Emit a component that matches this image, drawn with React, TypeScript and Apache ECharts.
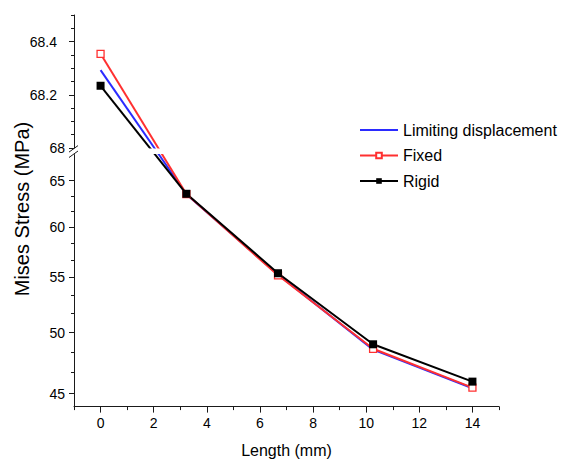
import React, { useEffect, useRef } from 'react';
import * as echarts from 'echarts';

// ---- data ----
const lengths = [0, 3.23, 6.68, 10.26, 14];
const limitingStress = [68.293, 63.5, 55.28, 48.55, 45.42];
const fixedStress = [68.354, 63.52, 55.2, 48.62, 45.47];
const rigidStress = [68.234, 63.55, 55.4, 49.0, 45.94];
const seriesNames = ['Limiting displacement', 'Fixed', 'Rigid'];

// ---- axis ticks ----
const xTickLabels = [0, 2, 4, 6, 8, 10, 12, 14];
const xMinorTicks = [-1, 1, 3, 5, 7, 9, 11, 13, 15];
const upperTickLabels = [68, 68.2, 68.4];
const upperMinorTicks = [68.05, 68.1, 68.15, 68.25, 68.3, 68.35, 68.45, 68.5];
const lowerTickLabels = [45, 50, 55, 60, 65];
const lowerMinorTicks = [46.667, 48.333, 51.667, 53.333, 56.667, 58.333, 61.667, 63.333];
const BREAK_VALUE = 68;

const FONT = "'Liberation Sans', Arial, sans-serif";
const AXIS_COLOR = '#1a1a1a';
const BLUE = '#2b2bff';
const RED = '#ff3030';
const BLACK = '#000000';

export default function App() {
  const ref = useRef<HTMLDivElement>(null);

  useEffect(() => {
    if (!ref.current) return;
    const chart = echarts.init(ref.current, null, { renderer: 'svg' });

    const defs = [
      { name: seriesNames[0], values: limitingStress, color: BLUE, symbol: 'none', size: 0, fill: BLUE },
      { name: seriesNames[1], values: fixedStress, color: RED, symbol: 'rect', size: 7, fill: '#ffffff' },
      { name: seriesNames[2], values: rigidStress, color: BLACK, symbol: 'rect', size: 8, fill: BLACK },
    ];

    const series: any[] = [];
    defs.forEach((d) => {
      const lower = lengths.map((x, i) => [x, d.values[i]]).filter((p) => p[1] < BREAK_VALUE);
      const upper = lengths.map((x, i) => [x, d.values[i]]).filter((p) => p[1] >= BREAK_VALUE);
      const common = {
        type: 'line',
        name: d.name,
        symbol: d.symbol,
        symbolSize: d.size,
        showSymbol: d.symbol !== 'none',
        lineStyle: { color: d.color, width: 2 },
        itemStyle: {
          color: d.fill,
          borderColor: d.color,
          borderWidth: d.fill === '#ffffff' ? 1.3 : 0,
        },
        emphasis: { disabled: true },
        clip: false,
      };
      series.push({ ...common, xAxisIndex: 1, yAxisIndex: 2, data: lower });
      series.push({ ...common, xAxisIndex: 0, yAxisIndex: 0, data: upper });
    });

    const tickLabelStyle = { color: '#000', fontFamily: FONT, fontSize: 14 };

    const option: any = {
      animation: false,
      backgroundColor: '#ffffff',
      grid: [
        { left: 74, top: 15, width: 425, height: 133 },
        { left: 74, top: 154.6, width: 425, height: 252 },
      ],
      xAxis: [
        { gridIndex: 0, type: 'value', min: -1, max: 15, show: false },
        {
          gridIndex: 1,
          type: 'value',
          min: -1,
          max: 15,
          position: 'bottom',
          axisLine: { show: true, onZero: false, lineStyle: { color: AXIS_COLOR, width: 1 } },
          axisTick: { show: true, inside: false, length: 6, customValues: xTickLabels, lineStyle: { color: AXIS_COLOR } },
          axisLabel: { show: true, customValues: xTickLabels, margin: 9, ...tickLabelStyle },
          splitLine: { show: false },
          name: 'Length (mm)',
          nameLocation: 'middle',
          nameGap: 36,
          nameTextStyle: { color: '#000', fontFamily: FONT, fontSize: 16 },
        },
        {
          gridIndex: 1,
          type: 'value',
          min: -1,
          max: 15,
          position: 'bottom',
          offset: 0,
          axisLine: { show: false, onZero: false },
          axisTick: { show: true, inside: false, length: 3.5, customValues: xMinorTicks, lineStyle: { color: AXIS_COLOR } },
          axisLabel: { show: false },
          splitLine: { show: false },
        },
      ],
      yAxis: [
        {
          gridIndex: 0,
          type: 'value',
          min: 68,
          max: 68.5,
          position: 'left',
          axisLine: { show: true, onZero: false, lineStyle: { color: AXIS_COLOR, width: 1 } },
          axisTick: { show: true, inside: false, length: 5, customValues: upperTickLabels, lineStyle: { color: AXIS_COLOR } },
          axisLabel: {
            show: true,
            customValues: upperTickLabels,
            margin: 9,
            formatter: (v: number) =>
              Math.abs(v - Math.round(v)) < 1e-6 ? `{i|${Math.round(v)}}` : `{d|${v.toFixed(1)}}`,
            rich: {
              i: { ...tickLabelStyle },
              d: { ...tickLabelStyle, padding: [0, 8, 0, 0] },
            },
          },
          splitLine: { show: false },
        },
        {
          gridIndex: 0,
          type: 'value',
          min: 68,
          max: 68.5,
          position: 'left',
          offset: 0,
          axisLine: { show: false, onZero: false },
          axisTick: { show: true, inside: false, length: 3, customValues: upperMinorTicks, lineStyle: { color: AXIS_COLOR } },
          axisLabel: { show: false },
          splitLine: { show: false },
        },
        {
          gridIndex: 1,
          type: 'log',
          logBase: 10,
          min: 44,
          max: 68,
          position: 'left',
          axisLine: { show: true, onZero: false, lineStyle: { color: AXIS_COLOR, width: 1 } },
          axisTick: { show: true, inside: false, length: 5, customValues: lowerTickLabels, lineStyle: { color: AXIS_COLOR } },
          axisLabel: { show: true, customValues: lowerTickLabels, margin: 9, ...tickLabelStyle },
          splitLine: { show: false },
        },
        {
          gridIndex: 1,
          type: 'log',
          logBase: 10,
          min: 44,
          max: 68,
          position: 'left',
          offset: 0,
          axisLine: { show: false, onZero: false },
          axisTick: { show: true, inside: false, length: 3, customValues: lowerMinorTicks, lineStyle: { color: AXIS_COLOR } },
          axisLabel: { show: false },
          splitLine: { show: false },
        },
      ],
      legend: {
        data: [
          { name: seriesNames[0], itemStyle: { color: 'rgba(0,0,0,0)', borderWidth: 0, opacity: 0 } },
          { name: seriesNames[1] },
          { name: seriesNames[2] },
        ],
        orient: 'vertical',
        left: 354,
        top: 117,
        itemWidth: 38,
        itemHeight: 7,
        itemGap: 9.5,
        selectedMode: false,
        textStyle: { color: '#000', fontFamily: FONT, fontSize: 16, lineHeight: 16 },
      },
      series,
      graphic: [
        {
          type: 'text',
          x: 22,
          y: 209,
          rotation: Math.PI / 2,
          style: {
            text: 'Mises Stress (MPa)',
            fill: '#000',
            font: `20px ${FONT}`,
            align: 'center',
            verticalAlign: 'middle',
          },
        },
      ],
    };

    chart.setOption(option);

    // segments that cross the axis break: endpoints come from each panel's own scale
    const crossing: any[] = [];
    defs.forEach((d) => {
      for (let i = 0; i < lengths.length - 1; i++) {
        const a = d.values[i];
        const b = d.values[i + 1];
        const aUp = a >= BREAK_VALUE;
        const bUp = b >= BREAK_VALUE;
        if (aUp === bUp) continue;
        const pa = chart.convertToPixel({ gridIndex: aUp ? 0 : 1 } as any, [lengths[i], a]) as number[];
        const pb = chart.convertToPixel({ gridIndex: bUp ? 0 : 1 } as any, [lengths[i + 1], b]) as number[];
        crossing.push({
          type: 'line',
          z: 1,
          shape: { x1: pa[0], y1: pa[1], x2: pb[0], y2: pb[1] },
          style: { stroke: d.color, lineWidth: 2 },
          silent: true,
        });
      }
    });

    const gridTop = chart.convertToPixel({ gridIndex: 0 } as any, [-1, 68]) as number[];
    const gridBot = chart.convertToPixel({ gridIndex: 1 } as any, [-1, 68]) as number[];
    const axisX = gridTop[0];
    const gapTop = gridTop[1] + 0.6;
    const gapBot = gridBot[1] - 0.6;

    chart.setOption({
      graphic: [
        option.graphic[0],
        ...crossing,
        {
          type: 'rect',
          z: 50,
          silent: true,
          shape: { x: axisX + 1.5, y: gapTop, width: 250, height: gapBot - gapTop },
          style: { fill: '#ffffff' },
        },
        {
          type: 'line',
          z: 60,
          silent: true,
          shape: { x1: axisX - 5, y1: gapTop + 3.5, x2: axisX + 4, y2: gapTop - 3 },
          style: { stroke: AXIS_COLOR, lineWidth: 1 },
        },
        {
          type: 'line',
          z: 60,
          silent: true,
          shape: { x1: axisX - 5, y1: gapBot + 3.5, x2: axisX + 4, y2: gapBot - 3 },
          style: { stroke: AXIS_COLOR, lineWidth: 1 },
        },
      ],
    });

    return () => {
      chart.dispose();
    };
  }, []);

  return (
    <div
      ref={ref}
      style={{ position: 'fixed', left: 0, top: 0, width: 569, height: 468, background: '#fff' }}
    />
  );
}
